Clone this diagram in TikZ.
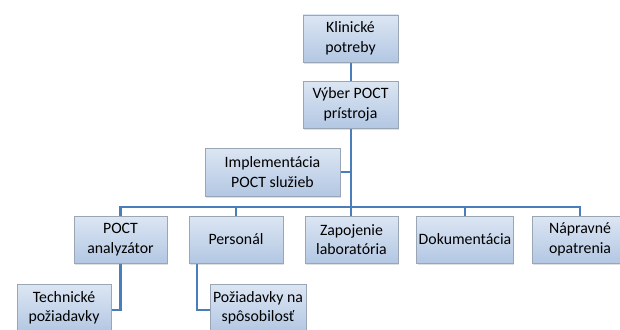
\documentclass[tikz,border=0pt]{standalone}
\usepackage{fontspec}
\setmainfont{Carlito}
\usetikzlibrary{shadows,backgrounds}
\definecolor{boxtop}{HTML}{DCE6F3}
\definecolor{boxbot}{HTML}{B3C7E3}
\definecolor{boxline}{HTML}{9AA6B6}
\definecolor{linkblue}{HTML}{4A7EBB}
\tikzset{
  box/.style={draw=boxline, line width=0.8pt, top color=boxtop, bottom color=boxbot,
    minimum height=47pt, inner sep=2pt, align=center,
    font=\fontsize{15.8}{19.5}\selectfont,
    drop shadow={opacity=0.25, shadow xshift=1.2pt, shadow yshift=-2pt}},
  link/.style={draw=linkblue, line width=2.2pt}
}
\begin{document}
\begin{tikzpicture}[x=1pt, y=-1pt]
\useasboundingbox (0,0) rectangle (620,329);
% top chain
\node[box, minimum width=95pt] (klin) at (350.5,38.5) {Klinické\\potreby};
\node[box, minimum width=95pt] (vyber) at (350.5,104.5) {Výber POCT\\prístroja};
\node[box, minimum width=135pt, minimum height=48pt] (impl) at (272.5,172) {Implementácia\\POCT služieb};
% second level
\node[box, minimum width=93pt] (poct) at (120.5,239.5) {POCT\\analyzátor};
\node[box, minimum width=94pt] (pers) at (236,239.5) {Personál};
\node[box, minimum width=93pt] (zap) at (351.5,239.5) {Zapojenie\\laboratória};
\node[box, minimum width=96pt] (dok) at (465,239.5) {Dokumentácia};
\node[box, minimum width=96pt] (nap) at (580,239.5) {Nápravné\\opatrenia};
% third level
\node[box, minimum width=94pt, minimum height=48pt] (tech) at (64,308) {Technické\\požiadavky};
\node[box, minimum width=96pt, minimum height=48pt] (poz) at (258,308) {Požiadavky na\\spôsobilosť};
% connectors
\coordinate (bus) at (351,207);
\begin{scope}[on background layer]
\draw[link] (klin.south -| bus) -- (bus);
\draw[link] (impl.east) -- (impl.east -| bus);
\draw[link] (poct.north) |- (bus) -| (nap.north);
\draw[link] (pers.north) -- (pers.north |- bus);
\draw[link] (zap.north -| bus) -- (bus);
\draw[link] (dok.north) -- (dok.north |- bus);
\draw[link] (poct.south) |- ([yshift=-2pt]tech.east);
\draw[link] ([xshift=8pt]pers.south west) |- ([yshift=-2pt]poz.west);
\end{scope}
\end{tikzpicture}
\end{document}
